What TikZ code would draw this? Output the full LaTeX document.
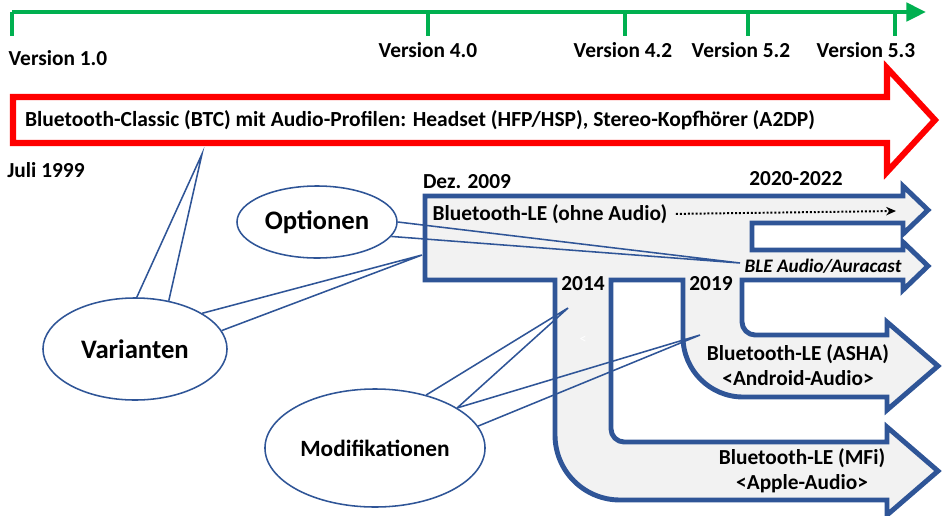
\documentclass[tikz,border=0pt]{standalone}
\usepackage{fontspec}
\setmainfont{Carlito}
\usepackage{xcolor}
\usetikzlibrary{shapes.geometric, arrows.meta, positioning, calc}
\definecolor{BTGreen}{HTML}{00B050}
\definecolor{BTRed}{HTML}{FF0000}
\definecolor{BTBlue}{HTML}{2F5597}
\definecolor{BTGray}{HTML}{F2F2F2}
\definecolor{BTBlack}{HTML}{000000}
\tikzset{
    tag/.style={
        text=BTBlack,
        font=\fontsize{15.2}{17.5}\selectfont\bfseries,
        align=center,
        inner sep=0pt
    },
    smalltag/.style={
        text=BTBlack,
        font=\fontsize{13.6}{15}\selectfont\bfseries\itshape,
        inner sep=0pt
    },
    bubble/.style={
        ellipse,
        draw=BTBlue,
        line width=1.1pt,
        fill=white,
        inner sep=0pt,
        text=BTBlack,
        font=\fontsize{#1}{#1}\selectfont\bfseries
    },
    bubble/.default=19,
    wedge/.style={
        draw=BTBlue,
        line width=1.1pt,
        line join=miter
    },
    timeline/.style={
        BTGreen,
        line width=2.8pt
    },
    classic/.style={
        draw=BTRed,
        fill=white,
        line width=4.3pt
    },
    lowenergy/.style={
        draw=BTBlue,
        fill=BTGray,
        line width=3.5pt
    },
    dotarrow/.style={
        -{Stealth[length=7pt,width=6pt]},
        BTBlack,
        line width=1.4pt,
        dash pattern=on 1.4pt off 1.4pt
    }
}

\begin{document}
\begin{tikzpicture}[x=0.025cm, y=-0.025cm]
        \useasboundingbox (0,0) rectangle (942,515);

        % Version timeline
        \draw[timeline, -{Triangle[length=14pt,width=13pt]}] (12,12) -- (926,12);
        \draw[timeline] (12,12) -- (12,36);
        \draw[timeline] (428,12) -- (428,36);
        \draw[timeline] (625,12) -- (625,36);
        \draw[timeline] (748,12) -- (748,36);
        \draw[timeline] (895,12) -- (895,36);
        \node[tag] (v10) at (58,58) {Version 1.0};
        \node[tag] (v40) at (428,50) {Version 4.0};
        \node[tag] (v42) at (623,50) {Version 4.2};
        \node[tag] (v52) at (741,50) {Version 5.2};
        \node[tag] (v53) at (866,50) {Version 5.3};

        % Bluetooth Classic
        \draw[classic] (13,97) -- (887,97) -- (887,68) -- (935,120) -- (887,172)
            -- (887,143) -- (13,143) -- cycle;
        \node[tag, font=\fontsize{15.3}{17.5}\selectfont\bfseries] (btc) at (420,120) {Bluetooth-Classic (BTC) mit Audio-Profilen: Headset (HFP/HSP), Stereo-Kopfhörer (A2DP)};
        \node[tag] (y1999) at (46,170) {Juli 1999};

        % Bluetooth LE branches
        \draw[lowenergy]
            (425,196) -- (903,196) -- (903,186) -- (928,210) -- (903,234) -- (903,223)
            -- (752,223) -- (752,250) -- (903,250) -- (903,242) -- (928,266) -- (903,290)
            -- (903,280) -- (742,280) -- (742,322) .. controls (742,329) and (748,335) .. (755,335)
            -- (887,335) -- (887,322) -- (938,366) -- (887,410) -- (887,397)
            -- (743,397) .. controls (710,397) and (683,370) .. (683,337)
            -- (683,280) -- (611,280) -- (611,429) .. controls (611,436) and (617,442) .. (624,442)
            -- (887,442) -- (887,427) -- (938,471) -- (887,515) -- (887,500)
            -- (620,500) .. controls (584,500) and (555,471) .. (555,435)
            -- (555,280) -- (425,280) -- cycle;
        \node[tag] (y2009) at (467,182) {Dez. 2009};
        \node[tag] (y2020) at (796,179) {2020-2022};
        \node[tag] (y2014) at (583,284) {2014};
        \node[tag] (y2019) at (711,284) {2019};
        \node[tag] (le) at (550,214) {Bluetooth-LE (ohne Audio)};
        \coordinate (leend) at (896,211);
        \draw[dotarrow, shorten <=6pt] (le.east) -- (leend);
        \node[smalltag] (ble) at (823,266) {BLE Audio/Auracast};
        \node[tag] (asha) at (798,365) {Bluetooth-LE (ASHA)\\<Android-Audio>};
        \node[tag] (mfi) at (802,471) {Bluetooth-LE (MFi)\\<Apple-Audio>};
        \node[text=white, font=\fontsize{10}{12}\selectfont, inner sep=0pt] (lt) at (583,340) {<};

        % Callouts
        \node[bubble, minimum width=4cm, minimum height=1.8cm] (opt) at (317,222) {Optionen};
        \node[bubble, minimum width=4.6cm, minimum height=2.55cm] (var) at (135,349) {Varianten};
        \node[bubble=16.6, minimum width=5.5cm, minimum height=2.95cm] (mod) at (375,448) {Modifikationen};
        \coordinate (tipbtc) at (202,154);
        \coordinate (tiple) at (422,255);
        \coordinate (tipble) at (740,263);
        \coordinate (tip14) at (568,308);
        \coordinate (tip19) at (700,335);
        \draw[wedge] (var.88) -- (tipbtc) -- (var.55);
        \draw[wedge] (var.28) -- (tiple) -- (var.12);
        \draw[wedge] (opt.0) -- (tipble) -- (opt.-11);
        \draw[wedge] (mod.46) -- (tip14) -- (mod.26);
        \draw[wedge] (mod.26) -- (tip19) -- (mod.12);
    \end{tikzpicture}
\end{document}
